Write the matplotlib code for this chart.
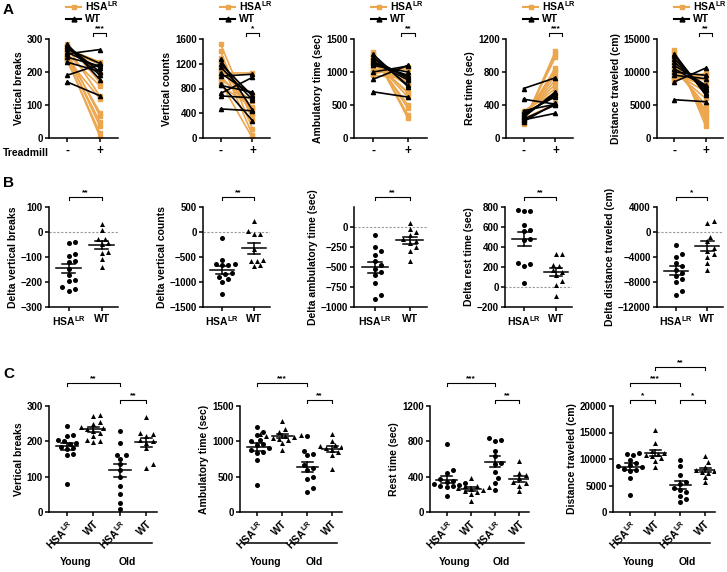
import numpy as np
import matplotlib
matplotlib.use("Agg")
import matplotlib.pyplot as plt
import matplotlib.transforms as mtransforms
from matplotlib.lines import Line2D

plt.rcParams.update({
    "font.family": ["Liberation Sans", "DejaVu Sans"],
    "font.weight": "bold",
    "font.size": 7,
    "axes.labelweight": "bold",
    "axes.labelsize": 7.5,
    "axes.linewidth": 1.1,
    "xtick.major.width": 1.1,
    "ytick.major.width": 1.1,
    "xtick.major.size": 3,
    "ytick.major.size": 3,
    "xtick.major.pad": 2,
    "ytick.major.pad": 1.5,
    "mathtext.fontset": "custom",
    "mathtext.rm": "Liberation Sans:bold",
    "mathtext.bf": "Liberation Sans:bold",
    "mathtext.it": "Liberation Sans:bold",
})

ORANGE = "#EBA64E"
HSA = r"HSA$^{\rm LR}$"

# ---------------- Panel A: before / after treadmill ----------------
vb_hsa_pre = [270, 265, 280, 255, 285, 240, 275, 250, 260, 245, 235, 250, 240]
vb_hsa_post = [230, 223, 193, 158, 169, 119, 127, 77, 67, 48, 15, 35, 4]
vb_wt_pre = [190, 255, 230, 245, 270, 260, 280, 275, 285, 170]
vb_wt_post = [223, 268, 201, 218, 226, 213, 200, 191, 177, 128]

vc_hsa_pre = [1520, 1400, 1300, 1250, 1200, 1150, 1100, 1050, 1000, 950, 900, 850]
vc_hsa_post = [290, 150, 370, 50, 380, 480, 700, 1050, 450, 600, 0, 500]
vc_wt_pre = [470, 680, 720, 850, 880, 1000, 1050, 1150, 1200, 1270]
vc_wt_post = [440, 650, 980, 740, 280, 1030, 700, 620, 680, 450]

amb_hsa_pre = [1310, 1280, 1250, 1220, 1200, 1180, 1150, 1120, 1100, 1050, 1000, 970, 950]
amb_hsa_post = [300, 350, 450, 500, 620, 680, 700, 800, 850, 950, 1050, 1080, 900]
amb_wt_pre = [700, 890, 1000, 1100, 1130, 1160, 1200, 1230, 1270, 1150]
amb_wt_post = [620, 1100, 1090, 1000, 950, 930, 900, 800, 780, 880]

rest_hsa_pre = [170, 190, 200, 220, 240, 250, 260, 270, 290, 310, 330, 300, 230]
rest_hsa_post = [1050, 1020, 980, 850, 820, 800, 750, 700, 650, 600, 550, 500, 420]
rest_wt_pre = [600, 470, 220, 200, 230, 250, 260, 280, 300, 330]
rest_wt_post = [730, 410, 300, 420, 400, 560, 540, 520, 500, 410]

dist_hsa_pre = [13400, 13000, 12500, 12000, 11500, 11000, 10500, 10000, 9800, 9500, 9200, 9000, 8800]
dist_hsa_post = [1800, 2500, 3000, 3500, 4000, 4200, 5000, 6000, 7000, 8000, 8800, 9500, 9800]
dist_wt_pre = [5800, 8500, 9500, 10000, 10500, 11000, 11500, 12000, 12500, 12800]
dist_wt_post = [5500, 10600, 9000, 9500, 7800, 8000, 7500, 7200, 6800, 6500]

# ---------------- Panel B: deltas ----------------
dvb_hsa = [-40, -42, -87, -97, -116, -121, -148, -173, -193, -197, -220, -227, -236]
dvb_wt = [9, 33, -29, -27, -44, -47, -80, -84, -108, -140]
dvc_hsa = [-120, -553, -647, -647, -667, -667, -820, -847, -900, -933, -1000, -1233]
dvc_wt = [220, 13, -33, -33, -347, -580, -580, -567, -680, -667]
damb_hsa = [-100, -250, -300, -350, -420, -480, -520, -560, -600, -700, -850, -900]
damb_wt = [50, -20, -60, -100, -150, -180, -200, -250, -300, -420]
drest_hsa = [760, 770, 765, 620, 570, 560, 480, 470, 240, 230, 215, 40]
drest_wt = [330, 330, 225, 210, 170, 150, 120, 60, 20, -85]
ddist_hsa = [-2000, -3500, -4000, -5000, -5500, -6000, -6500, -7000, -7500, -8000, -9500, -10000]
ddist_wt = [1800, 1500, -800, -1500, -2500, -3000, -3500, -4000, -5000, -6000]

# ---------------- Panel C: young vs old ----------------
c_vb = [
    [243, 218, 215, 205, 200, 195, 192, 185, 180, 178, 165, 160, 79],
    [275, 273, 255, 250, 240, 238, 235, 230, 225, 215, 205, 200, 197],
    [230, 195, 162, 160, 150, 135, 120, 100, 75, 50, 25, 8],
    [268, 225, 222, 215, 205, 200, 195, 180, 135, 125],
]
c_amb = [
    [1200, 1130, 1090, 1020, 1000, 960, 950, 900, 880, 850, 830, 740, 380],
    [1290, 1180, 1130, 1100, 1090, 1080, 1070, 1060, 1050, 1040, 1020, 980, 880],
    [1070, 870, 820, 810, 660, 620, 600, 500, 470, 340, 290],
    [1100, 1010, 950, 930, 920, 900, 880, 850, 800, 610],
]
c_rest = [
    [770, 470, 440, 370, 350, 340, 330, 320, 310, 300, 290, 280, 180],
    [390, 300, 290, 280, 270, 260, 250, 240, 230, 200, 130],
    [840, 810, 800, 690, 630, 560, 540, 450, 380, 330, 250],
    [580, 440, 420, 380, 350, 340, 330, 300, 240],
]
c_dist = [
    [11200, 11000, 10800, 9900, 9200, 8800, 8600, 8400, 8200, 8000, 7800, 6500, 3200],
    [15500, 13000, 11500, 11200, 11000, 10800, 10500, 10200, 9700, 8400],
    [9800, 8700, 7000, 5700, 5300, 4500, 4200, 3800, 3100, 2400, 1800],
    [10600, 9400, 8500, 8000, 7900, 7700, 7600, 7400, 6600, 5600],
]

W, H = 727, 572
fig = plt.figure(figsize=(W / 100, H / 100), dpi=100)


def add_ax(x0, x1, ytop, ybot):
    ax = fig.add_axes([x0 / W, 1 - ybot / H, (x1 - x0) / W, (ybot - ytop) / H])
    ax.spines["top"].set_visible(False)
    ax.spines["right"].set_visible(False)
    return ax


def bracket(ax, x1, x2, yf, text, drop=3):
    tr = mtransforms.blended_transform_factory(ax.transData, ax.transAxes)
    hpx = ax.get_window_extent().height
    d = drop / hpx
    ax.plot([x1, x1, x2, x2], [yf - d, yf, yf, yf - d], color="black", lw=0.8,
             transform=tr, clip_on=False)
    ax.text((x1 + x2) / 2, yf + 0.5 / hpx, text, transform=tr, ha="center",
            va="bottom", fontsize=6)


def swarm(ax, xc, vals, dia):
    pts = ax.transData.transform(np.column_stack([np.full(len(vals), xc), vals]))
    order = np.argsort(pts[:, 1])
    placed = []
    out = pts.copy()
    cands = [0]
    for k in range(1, 12):
        cands += [k * dia * 0.6, -k * dia * 0.6]
    for i in order:
        for c in cands:
            x = pts[i, 0] + c
            if all((x - px) ** 2 + (pts[i, 1] - py) ** 2 >= dia ** 2 for px, py in placed):
                break
        placed.append((x, pts[i, 1]))
        out[i, 0] = x
    return ax.transData.inverted().transform(out)[:, 0]


def mean_sem(ax, x, vals, hw=0.38, cw=0.2):
    v = np.asarray(vals, float)
    m = v.mean()
    s = v.std(ddof=1) / np.sqrt(len(v))
    ax.plot([x - hw, x + hw], [m, m], color="black", lw=1.1, zorder=4)
    ax.plot([x, x], [m - s, m + s], color="black", lw=1.1, zorder=4)
    ax.plot([x - cw, x + cw], [m + s, m + s], color="black", lw=1.1, zorder=4)
    ax.plot([x - cw, x + cw], [m - s, m - s], color="black", lw=1.1, zorder=4)


# ---------------- Row A ----------------
colsA = [(49, 118), (203, 270), (354, 427), (506, 573), (657, 723)]
A_data = [
    (vb_hsa_pre, vb_hsa_post, vb_wt_pre, vb_wt_post, "Vertical breaks", 300, 100, "***"),
    (vc_hsa_pre, vc_hsa_post, vc_wt_pre, vc_wt_post, "Vertical counts", 1600, 400, "*"),
    (amb_hsa_pre, amb_hsa_post, amb_wt_pre, amb_wt_post, "Ambulatory time (sec)", 1500, 500, "**"),
    (rest_hsa_pre, rest_hsa_post, rest_wt_pre, rest_wt_post, "Rest time (sec)", 1200, 400, "***"),
    (dist_hsa_pre, dist_hsa_post, dist_wt_pre, dist_wt_post, "Distance traveled (cm)", 15000, 5000, "**"),
]
for (x0, x1), (hp, hq, wp, wq, lab, top, step, star) in zip(colsA, A_data):
    ax = add_ax(x0, x1, 39, 138)
    for a, b in zip(hp, hq):
        ax.plot([0, 1], [a, b], color=ORANGE, lw=1.2, marker="s", ms=2.8, mec=ORANGE)
    for a, b in zip(wp, wq):
        ax.plot([0, 1], [a, b], color="black", lw=1.2, marker="^", ms=3, mec="black")
    ax.set_xlim(-0.55, 1.55)
    ax.set_ylim(0, top)
    ax.set_yticks(np.arange(0, top + 1, step))
    ax.set_xticks([0, 1])
    ax.set_xticklabels(["-", "+"], fontsize=8.5)
    ax.set_ylabel(lab, labelpad=2)
    bracket(ax, 0.8, 1.2, 1.06, star)
    handles = [Line2D([], [], color=ORANGE, lw=1.5, marker="s", ms=3),
               Line2D([], [], color="black", lw=1.5, marker="^", ms=3.5)]
    fig.legend(handles, [HSA, "WT"], loc="upper left",
               bbox_to_anchor=((x0 + 12) / W, 1 + 6 / H), frameon=False,
               borderpad=0, handlelength=1.4, handletextpad=0.4,
               labelspacing=0.12, fontsize=7.5)
fig.text(3 / W, 1 - 153 / H, "Treadmill", fontsize=7.5, va="center", ha="left")

# ---------------- Row B ----------------
colsB = [(49, 118), (203, 270), (354, 427), (505, 572), (657, 723)]
B_data = [
    (dvb_hsa, dvb_wt, "Delta vertical breaks", (-300, 100), np.arange(-300, 101, 100), "**"),
    (dvc_hsa, dvc_wt, "Delta vertical counts", (-1500, 500), np.arange(-1500, 501, 500), "**"),
    (damb_hsa, damb_wt, "Delta ambulatory time (sec)", (-1000, 250), np.arange(-1000, 1, 250), "**"),
    (drest_hsa, drest_wt, "Delta rest time (sec)", (-200, 800), np.arange(-200, 801, 200), "**"),
    (ddist_hsa, ddist_wt, "Delta distance traveled (cm)", (-12000, 4000), np.arange(-12000, 4001, 4000), "*"),
]
for (x0, x1), (h, w, lab, lim, ticks, star) in zip(colsB, B_data):
    ax = add_ax(x0, x1, 207, 307)
    ax.set_xlim(-0.6, 1.5)
    ax.set_ylim(*lim)
    ax.set_yticks(ticks)
    ax.set_xticks([0, 1])
    ax.set_xticklabels([HSA, "WT"], fontsize=7.5)
    ax.set_ylabel(lab, labelpad=2)
    ax.axhline(0, color="#999999", lw=0.8, ls=(0, (2, 1.5)), zorder=0)
    ax.scatter(swarm(ax, 0, h, 5.2), h, s=13, marker="o", color="black", zorder=3, linewidths=0)
    ax.scatter(swarm(ax, 1, w, 5.2), w, s=13, marker="^", color="black", zorder=3, linewidths=0)
    mean_sem(ax, 0, h)
    mean_sem(ax, 1, w)
    bracket(ax, 0, 1, 1.10, star)

# ---------------- Row C ----------------
colsC = [(49, 157), (240, 342), (430, 529), (613, 715)]
C_data = [
    (c_vb, "Vertical breaks", 300, 100, "**"),
    (c_amb, "Ambulatory time (sec)", 1500, 500, "***"),
    (c_rest, "Rest time (sec)", 1200, 400, "***"),
    (c_dist, "Distance traveled (cm)", 20000, 5000, "***"),
]
for idx, ((x0, x1), (groups, lab, top, step, star)) in enumerate(zip(colsC, C_data)):
    ax = add_ax(x0, x1, 406, 512)
    ax.set_xlim(-0.68, 3.4)
    ax.set_ylim(0, top)
    ax.set_yticks(np.arange(0, top + 1, step))
    ax.set_xticks([0, 1, 2, 3])
    ax.set_xticklabels([HSA, "WT", HSA, "WT"], rotation=45, ha="right",
                       rotation_mode="anchor", fontsize=7.5)
    ax.set_ylabel(lab, labelpad=2)
    for g, vals in enumerate(groups):
        mk = "o" if g % 2 == 0 else "^"
        ax.scatter(swarm(ax, g, vals, 5.2), vals, s=13, marker=mk, color="black",
                   zorder=3, linewidths=0)
        mean_sem(ax, g, vals, hw=0.42, cw=0.22)
    if idx == 3:
        bracket(ax, 0, 1, 1.057, "*")
        bracket(ax, 2, 3, 1.057, "*")
        bracket(ax, 0, 2, 1.217, "***")
        bracket(ax, 1, 3, 1.37, "**")
    else:
        bracket(ax, 2, 3, 1.057, "**")
        bracket(ax, 0, 2, 1.217, star)
    tr = mtransforms.blended_transform_factory(ax.transData, ax.transAxes)
    for (a, b), name in [((-0.55, 1.2), "Young"), ((1.35, 3.2), "Old")]:
        ax.plot([a, b], [-0.29, -0.29], color="black", lw=1.1, transform=tr, clip_on=False)
        ax.text((a + b) / 2, -0.47, name, transform=tr, ha="center", va="center", fontsize=7.5)

for lbl, yy in [("A", 10), ("B", 183), ("C", 374)]:
    fig.text(3 / W, 1 - yy / H, lbl, fontsize=11, fontweight="bold", va="center", ha="left")

fig.savefig("out.png", dpi=100)
